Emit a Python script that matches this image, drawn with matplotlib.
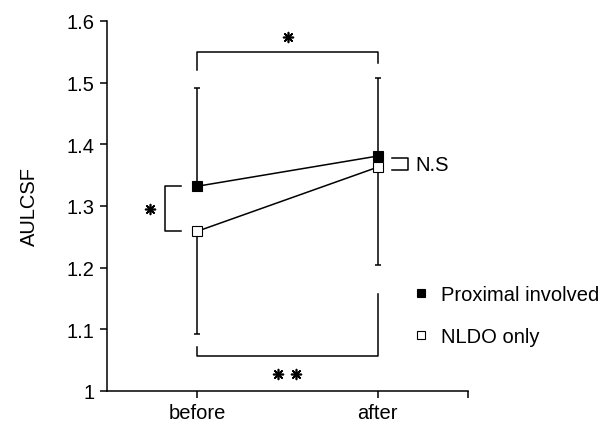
import matplotlib.pyplot as plt
from matplotlib.lines import Line2D

plt.rcParams['font.family'] = ['Liberation Sans', 'DejaVu Sans']

times = ['before', 'after']
proximal = [1.332, 1.381]
nldo = [1.259, 1.363]
# one-sided SD bars (upper for proximal, lower for nldo at before)
proximal_err_up = [0.160, 0.127]
nldo_err_down = [0.167, 0.158]

fig = plt.figure(figsize=(6.06, 4.27), dpi=100)
ax = fig.add_axes([0.1766, 0.082, 0.5957, 0.8665])

x = [0, 1]
lw = 1.1
fs = 14.5

ax.errorbar(x, proximal, yerr=[[0, 0], proximal_err_up], fmt='none',
            ecolor='black', elinewidth=lw, capsize=2.5, capthick=lw, zorder=2)
ax.errorbar(x, nldo, yerr=[nldo_err_down, [0, 0]], fmt='none',
            ecolor='black', elinewidth=lw, capsize=2.5, capthick=lw, zorder=2)
ax.plot(x, proximal, color='black', lw=lw, marker='s', ms=7.5,
        mfc='black', mec='black', mew=0.8, zorder=4)
ax.plot(x, nldo, color='black', lw=lw, marker='s', ms=7.5,
        mfc='white', mec='black', mew=0.8, zorder=3)

# significance brackets
kw = dict(color='black', lw=1.1, clip_on=False)
star = dict(marker=(8, 2, 0), s=50, c='black', linewidths=1.2, clip_on=False)
top = proximal[1] + proximal_err_up[1] + 0.042
ax.plot([0, 0, 1, 1], [top - 0.029, top, top, top - 0.018], **kw)
ax.scatter([0.5], [top + 0.024], **star)

bot = nldo[0] - nldo_err_down[0] - 0.035
ax.plot([0, 0, 1, 1], [bot + 0.014, bot, bot, 1.157], **kw)
ax.scatter([0.45, 0.545], [bot - 0.029, bot - 0.029], **star)

ax.plot([-0.09, -0.18, -0.18, -0.09], [proximal[0], proximal[0], nldo[0], nldo[0]], **kw)
ax.scatter([-0.26], [(proximal[0] + nldo[0]) / 2], **star)

ax.plot([1.08, 1.17, 1.17, 1.08], [proximal[1] - 0.003, proximal[1] - 0.003,
                                   nldo[1] - 0.005, nldo[1] - 0.005], **kw)
ax.text(1.21, (proximal[1] + nldo[1]) / 2 - 0.004, 'N.S', ha='left', va='center', fontsize=fs)

ax.set_xlim(-0.5, 1.5)
ax.set_ylim(1, 1.6)
ax.set_xticks(x)
ax.set_xticklabels(times, fontsize=fs)
ax.set_xticks([1.5], minor=True)
ax.set_yticks([1, 1.1, 1.2, 1.3, 1.4, 1.5, 1.6])
ax.set_yticklabels(['1', '1.1', '1.2', '1.3', '1.4', '1.5', '1.6'], fontsize=fs)
ax.tick_params(axis='both', which='both', direction='out', length=5, width=1.1, pad=4)
ax.set_ylabel('AULCSF', fontsize=fs, labelpad=20)

for s in ['top', 'right']:
    ax.spines[s].set_visible(False)
for s in ['left', 'bottom']:
    ax.spines[s].set_linewidth(1.1)

handles = [Line2D([], [], ls='none', marker='s', ms=6, mfc='black', mec='black', mew=0.8),
           Line2D([], [], ls='none', marker='s', ms=6, mfc='white', mec='black', mew=0.8)]
fig.legend(handles, ['Proximal involved', 'NLDO only'], loc='upper left',
           bbox_to_anchor=(0.652, 0.373), frameon=False, fontsize=fs,
           handlelength=0.8, handletextpad=0.6, labelspacing=1.15)

fig.savefig('out.png', dpi=100)
